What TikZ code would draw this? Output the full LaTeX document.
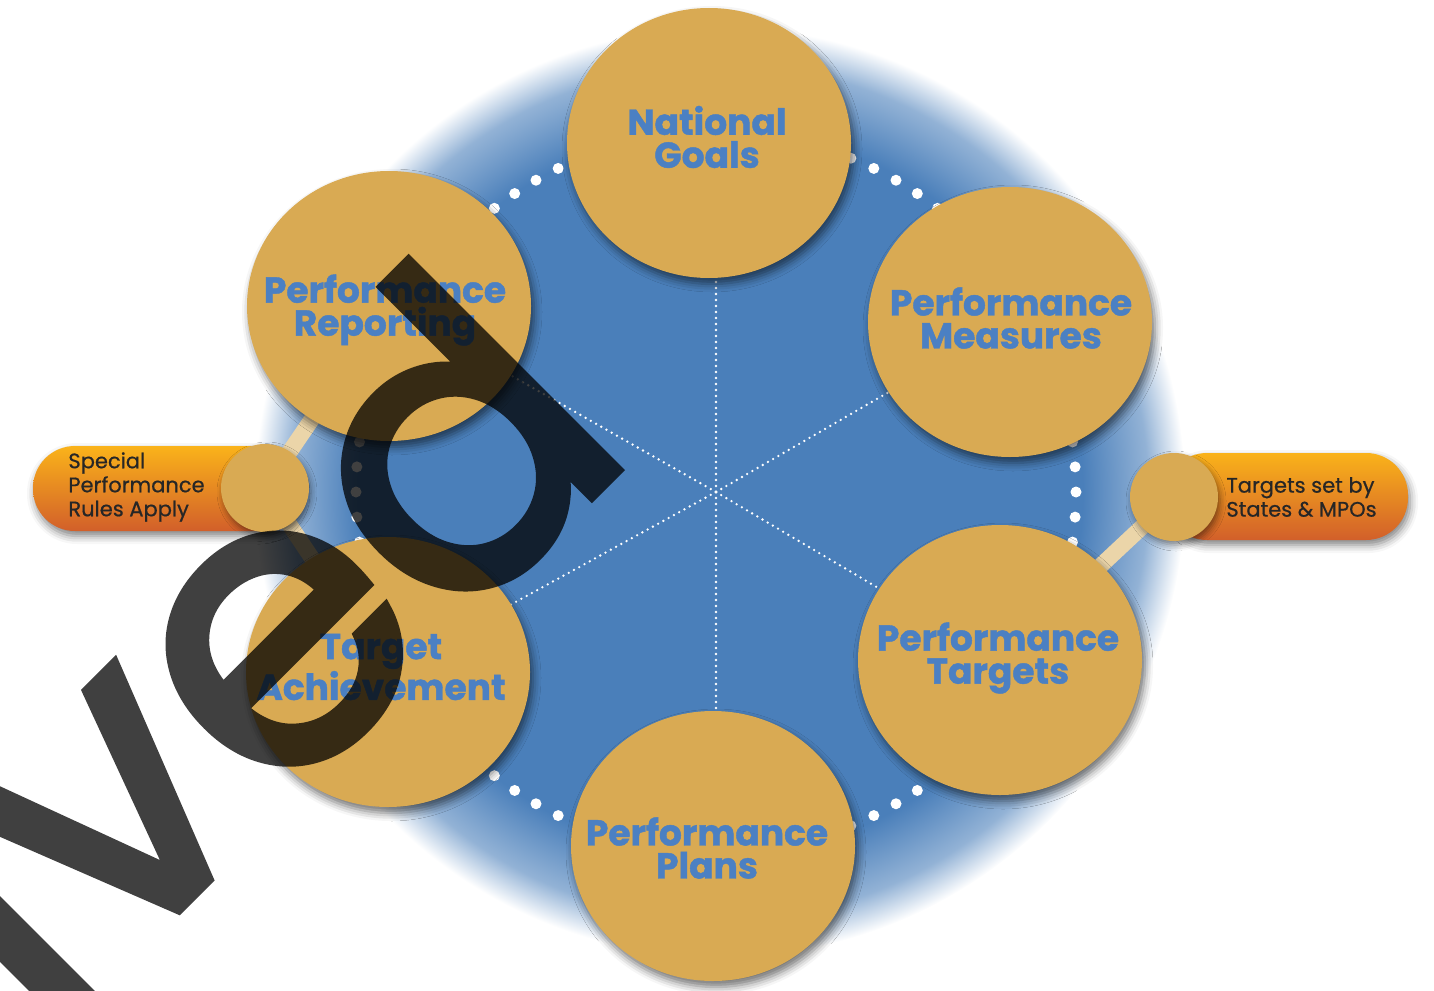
\documentclass[tikz,border=0pt]{standalone}
\usepackage{fontspec}
\newfontfamily\pop{Poppins}[FakeBold=0.6]
\newfontfamily\pophv{Poppins}[FakeBold=1.2]
\newfontfamily\popwm{Poppins}[FakeBold=2.5]
\usetikzlibrary{shapes.geometric,shadows.blur}
\definecolor{gold}{HTML}{D9AA53}
\definecolor{diskblue}{HTML}{4A7FBA}
\definecolor{txtblue}{HTML}{4B80C3}
\definecolor{beige}{HTML}{EBD5A9}
\definecolor{pilltop}{HTML}{FAB31A}
\definecolor{pillbot}{HTML}{D25F2A}
\definecolor{darktxt}{HTML}{262626}
\pgfdeclareradialshading{bluedisk}{\pgfpoint{0bp}{0bp}}{color(0bp)=(diskblue); color(19.5bp)=(diskblue); color(23bp)=(diskblue!60!white); color(25bp)=(white); color(50bp)=(white)}
\begin{document}
\begin{tikzpicture}[x=0.5pt,y=-0.5pt,
  goldcircle/.style={ellipse, fill=gold, inner sep=0, minimum width=142pt, minimum height=135pt,
     blur shadow={shadow xshift=1.5pt, shadow yshift=-3pt, shadow blur radius=4pt, shadow opacity=55}},
  smallcircle/.style={circle, fill=gold, inner sep=0, minimum size=44pt,
     blur shadow={shadow xshift=1pt, shadow yshift=-2pt, shadow blur radius=3pt, shadow opacity=45}},
  circtext/.style={font=\pophv\bfseries\fontsize{18}{16.5}\selectfont, text=txtblue, align=center, inner sep=0},
  pilltext/.style={font=\pop\fontsize{10.5}{12}\selectfont, text=darktxt, align=left, inner sep=0, anchor=west},
  pillbox/.style={rectangle, rounded corners=21pt, top color=pilltop, bottom color=pillbot, inner sep=0,
     blur shadow={shadow xshift=1pt, shadow yshift=-2.5pt, shadow blur radius=4pt, shadow opacity=50}},
  bar/.style={draw=beige, line width=8pt},
  spoke/.style={draw=white, line width=1.3pt, dash pattern=on 0pt off 3pt, line cap=round},
  ringdot/.style={fill=white}]
\useasboundingbox (0,0) rectangle (1434,990);
% blue disk
\node[circle, inner sep=0, minimum size=465pt, shading=bluedisk] (disk) at (720,492) {};
\coordinate (c) at (716,492);
% dotted ring
\foreach \a in {0,4,...,356} { \fill[ringdot] (c) ++(\a:360) circle[radius=5.5]; }
% node positions
\coordinate (ngc) at (709,143);
\coordinate (pmc) at (1010,322);
\coordinate (ptc) at (1000,660);
\coordinate (ppc) at (713,846);
\coordinate (tac) at (388,672);
\coordinate (prc) at (389,306);
% spokes
\draw[spoke] (c) -- (716,143);
\draw[spoke] (c) -- (716,846);
\draw[spoke] (c) -- (pmc);
\draw[spoke] (c) -- (ptc);
\draw[spoke] (c) -- (tac);
\draw[spoke] (c) -- (prc);
% small circles positions and bars
\coordinate (lsc) at (265,488);
\coordinate (rsc) at (1174,497);
\draw[bar] (lsc) -- (prc);
\draw[bar] (lsc) -- (tac);
\draw[bar] (rsc) -- (ptc);
% pills
\node[pillbox, minimum width=133.5pt, minimum height=42.5pt] (lpill) at (166.5,488.5) {};
\node[pillbox, minimum width=121.5pt, minimum height=43.5pt] (rpill) at (1286.5,496.5) {};
\node[pilltext] (lptext) at (68,487) {Special\\Performance\\Rules Apply};
\node[pilltext] (rptext) at (1226,497) {Targets set by\\States \& MPOs};
\node[smallcircle] (ls) at (lsc) {};
\node[smallcircle] (rs) at (rsc) {};
% big circles
\node[goldcircle] (ng) at (ngc) {};
\node[goldcircle] (pm) at (pmc) {};
\node[goldcircle] (pt) at (ptc) {};
\node[goldcircle] (pp) at (ppc) {};
\node[goldcircle] (ta) at (tac) {};
\node[goldcircle] (pr) at (prc) {};
\node[circtext] (ngt) at (707,137) {National\\Goals};
\node[circtext] (pmt) at (1011,318) {Performance\\Measures};
\node[circtext] (ptt) at (998,658) {Performance\\Targets};
\node[circtext] (ppt) at (707,848) {Performance\\Plans};
\node[circtext] (tat) at (381,667) {Target\\Achievement};
\node[circtext] (prt) at (385,310) {Performance\\Reporting};
% watermark
\begin{scope}[transparency group, opacity=0.75]
\node[font=\popwm\fontsize{200}{200}\selectfont, rotate=45, anchor=base east, inner sep=0, text=black] (wm) at (640,448) {Archived};
\end{scope}
\end{tikzpicture}
\end{document}
